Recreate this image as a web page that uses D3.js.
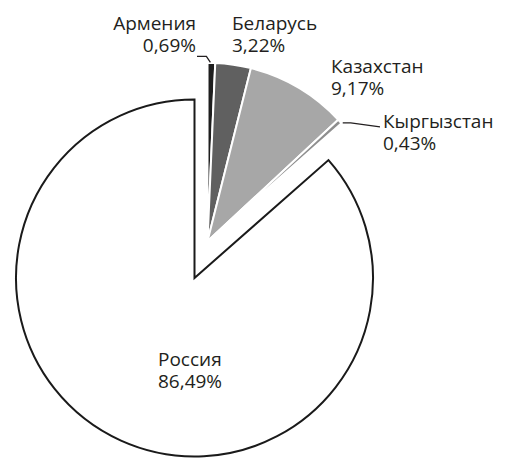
<!DOCTYPE html>
<html><head><meta charset="utf-8">
<script src="https://cdn.jsdelivr.net/npm/d3@7"></script>
<style>
html,body{margin:0;padding:0;background:#fff;}
svg{display:block;}
text{font-family:"Open Sans","Noto Sans",sans-serif;font-size:19px;fill:#231f20;}
</style></head>
<body>
<svg id="chart" width="514" height="466"></svg>
<script>
const categories = ["Армения", "Беларусь", "Казахстан", "Кыргызстан", "Россия"];
const shares = [0.69, 3.22, 9.17, 0.43, 86.49];
const shareLabels = ["0,69%", "3,22%", "9,17%", "0,43%", "86,49%"];
const fills = ["#1e1e1e", "#606060", "#a7a7a7", "#8e8e8e", "#ffffff"];

// label layout (x, first baseline, anchor)
const labelLayout = [
  {x: 196, y: 30, anchor: "end"},
  {x: 232, y: 30, anchor: "start"},
  {x: 331, y: 73, anchor: "start"},
  {x: 383, y: 128, anchor: "start"},
  {x: 158, y: 366, anchor: "start"}
];

const svg = d3.select("#chart");
const cx = 194.5, cy = 278, R = 178.5;
const explodeDist = 39, explodeAngle = 19.5 * Math.PI / 180;

const data = categories.map((c, i) => ({name: c, value: shares[i], label: shareLabels[i], fill: fills[i], idx: i}));
const pie = d3.pie().sort(null).value(d => d.value).startAngle(0).endAngle(2 * Math.PI);
const arcs = pie(data);
const arc = d3.arc().innerRadius(0).outerRadius(R);

const small = arcs.filter(a => a.data.name !== "Россия");
const ox = explodeDist * Math.sin(explodeAngle), oy = -explodeDist * Math.cos(explodeAngle);

const g = svg.append("g").attr("transform", `translate(${cx},${cy})`);

// Russia
const russia = arcs.find(a => a.data.name === "Россия");
g.append("path").attr("d", arc(russia)).attr("fill", "#fff")
  .attr("stroke", "#1a1a1a").attr("stroke-width", 2).attr("stroke-linejoin", "miter");

// exploded small slices
const gs = g.append("g").attr("transform", `translate(${ox},${oy})`);
gs.selectAll("path").data(small).join("path")
  .attr("d", arc).attr("fill", d => d.data.fill)
  .attr("stroke", "#fff").attr("stroke-width", 2).attr("stroke-linejoin", "miter");

// leader lines
function outerPt(a, r) {
  const m = (a.startAngle + a.endAngle) / 2;
  return [cx + ox + r * Math.sin(m), cy + oy - r * Math.cos(m)];
}
const arm = arcs[0];
const pA = outerPt(arm, 179);
svg.append("path").attr("fill", "none").attr("stroke", "#231f20").attr("stroke-width", 1.3)
  .attr("d", d3.line()([[pA[0] - 1, pA[1]], [pA[0] - 5, pA[1] - 6], [labelLayout[0].x + 1, pA[1] - 6]]));
const kyr = arcs[3];
const pK = outerPt(kyr, 181);
svg.append("path").attr("fill", "none").attr("stroke", "#231f20").attr("stroke-width", 1.3)
  .attr("d", d3.line()([[pK[0] + 1, pK[1] + 3], [pK[0] + 9, pK[1] + 3], [labelLayout[3].x - 3, pK[1] + 7]]));

// labels
const lab = svg.selectAll("text.lab").data(arcs).join("text").attr("class", "lab")
  .attr("text-anchor", d => labelLayout[d.data.idx].anchor);
lab.append("tspan")
  .attr("x", d => labelLayout[d.data.idx].x)
  .attr("y", d => labelLayout[d.data.idx].y)
  .text(d => d.data.name);
lab.append("tspan")
  .attr("x", d => labelLayout[d.data.idx].x)
  .attr("y", d => labelLayout[d.data.idx].y + 22)
  .text(d => d.data.label);
</script>
</body></html>
